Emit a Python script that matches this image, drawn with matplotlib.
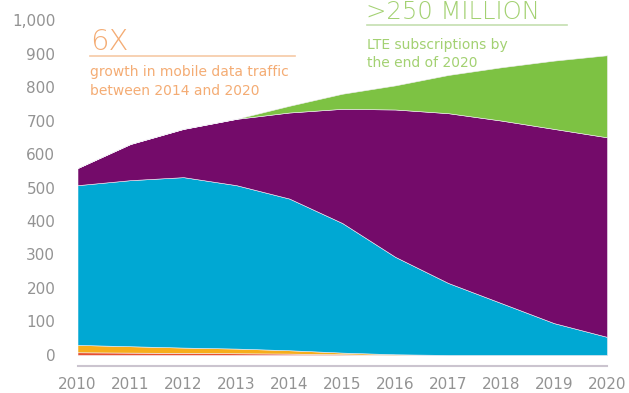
# Imports
import numpy as np
import matplotlib
matplotlib.use('Agg')
import matplotlib.pyplot as plt

# Data (millions of subscriptions, stacked)
years = [2010, 2011, 2012, 2013, 2014, 2015, 2016, 2017, 2018, 2019, 2020]
red_band = [8, 7, 6, 5, 4, 2, 0, 0, 0, 0, 0]
orange_band = [22, 19, 16, 14, 10, 5, 2, 0, 0, 0, 0]
blue_band = [477, 496, 509, 488, 453, 387, 291, 215, 155, 95, 54]
purple_band = [51, 108, 144, 198, 257, 341, 440, 507, 545, 580, 596]
green_band = [0, 0, 0, 0, 20, 45, 72, 114, 159, 204, 245]

y_ticks = [0, 100, 200, 300, 400, 500, 600, 700, 800, 900, 1000]
y_tick_labels = ['0', '100', '200', '300', '400', '500', '600', '700', '800', '900', '1,000']

colors = ['#e8502e', '#f7ad1a', '#00a8d3', '#740b6a', '#7dc243']

W, H = 629, 393


def px(x, y):
    # pixel position -> figure fraction
    return x / W, 1 - y / H


fig = plt.figure(figsize=(W / 100, H / 100), dpi=100)
ax = fig.add_axes([77.5 / W, (H - 366) / H, (607 - 77.5) / W, 366 / H])

ax.stackplot(years, red_band, orange_band, blue_band, purple_band, green_band,
             colors=colors, edgecolor='#f2eef5', linewidth=0.4)

ax.set_xlim(2010, 2020)
ax.set_ylim(-33, 1060)

ax.set_xticks(years)
ax.set_xticklabels([str(y) for y in years])
ax.set_yticks(y_ticks)
ax.set_yticklabels(y_tick_labels)
ax.tick_params(axis='both', length=0, labelsize=11, labelcolor='#939393')
ax.tick_params(axis='y', pad=16)
ax.tick_params(axis='x', pad=8)

for side in ['top', 'right', 'left']:
    ax.spines[side].set_visible(False)
ax.spines['bottom'].set_color('#cbc4cf')
ax.spines['bottom'].set_linewidth(1.5)

# Orange callout
orange_text = '#f4ac74'
x0, y0 = px(90, 50)
fig.text(x0, y0, '6X', fontsize=21, color=orange_text, va='baseline', ha='left',
         fontweight='light')
xa, ya = px(90, 56)
xb, _ = px(295, 56)
fig.add_artist(plt.Line2D([xa, xb], [ya, ya], color='#f6c9a5', lw=1.2))
x1, y1 = px(90, 72)
fig.text(x1, y1, 'growth in mobile data traffic', fontsize=10, color=orange_text,
         va='center', ha='left')
x2, y2 = px(90, 91)
fig.text(x2, y2, 'between 2014 and 2020', fontsize=10, color=orange_text,
         va='center', ha='left')

# Green callout
green_text = '#a3d172'
x3, y3 = px(366, 19)
fig.text(x3, y3, '>250 MILLION', fontsize=17.5, color=green_text, va='baseline',
         ha='left', fontweight='light')
xc, yc = px(367, 25)
xd, _ = px(567, 25)
fig.add_artist(plt.Line2D([xc, xd], [yc, yc], color='#c5dfb0', lw=1.2))
x4, y4 = px(367, 45)
fig.text(x4, y4, 'LTE subscriptions by', fontsize=10, color=green_text,
         va='center', ha='left')
x5, y5 = px(367, 63)
fig.text(x5, y5, 'the end of 2020', fontsize=10, color=green_text,
         va='center', ha='left')

fig.savefig('out.png', dpi=100)
